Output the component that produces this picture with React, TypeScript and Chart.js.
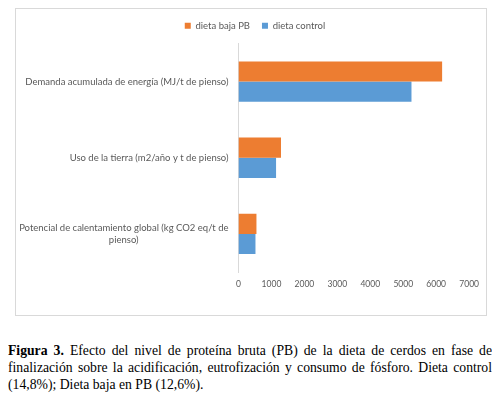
import React, { useEffect, useRef } from "react";
import { Chart, registerables } from "chart.js";

Chart.register(...registerables);

const categories: string[] = [
  "Demanda acumulada de energía (MJ/t de pienso)",
  "Uso de la tierra (m2/año y t de pienso)",
  "Potencial de calentamiento global (kg CO2 eq/t de|pienso)",
];
const seriesNames: string[] = ["dieta baja PB", "dieta control"];
const dietaBajaPB: number[] = [6180, 1290, 545];
const dietaControl: number[] = [5250, 1140, 515];
const xTicks: number[] = [0, 1000, 2000, 3000, 4000, 5000, 6000, 7000];

const ORANGE = "#ED7D31";
const BLUE = "#5B9BD5";
const TEXT = "#595959";
const FONT = "Lato";
const LABEL_SIZE = 9.5;
const TICK_SIZE = 8.5;
const RIGHT_PAD = 16;

function centeredLines(label: string): string | string[] {
  const parts = label.split("|");
  if (parts.length === 1) return label;
  const c = document.createElement("canvas").getContext("2d")!;
  c.font = `${LABEL_SIZE}px ${FONT}`;
  const w1 = c.measureText(parts[0]).width;
  const w2 = c.measureText(parts[1]).width;
  const sp = c.measureText(" ").width || 2.5;
  const n = Math.max(0, Math.round((w1 - w2) / 2 / sp));
  return [parts[0], parts[1] + " ".repeat(n)];
}

const legendTweak = {
  id: "legendTweak",
  beforeInit(chart: any) {
    const legend = chart.legend;
    if (!legend) return;
    const origFit = legend.fit;
    legend.fit = function () {
      origFit.call(this);
      this.height += 3;
    };
    const origDraw = legend.draw;
    legend.draw = function () {
      const r = this.right;
      this.right = r + RIGHT_PAD + 8;
      origDraw.call(this);
      this.right = r;
    };
  },
};

export default function App() {
  const ref = useRef<HTMLCanvasElement | null>(null);

  useEffect(() => {
    document.documentElement.style.overflow = "hidden";
    document.body.style.overflow = "hidden";
    if (!ref.current) return;
    const chart = new Chart(ref.current, {
      type: "bar",
      data: {
        labels: categories.map(centeredLines),
        datasets: [
          {
            label: seriesNames[0],
            data: dietaBajaPB,
            backgroundColor: ORANGE,
            borderWidth: 0,
            categoryPercentage: 0.53,
            barPercentage: 1,
          },
          {
            label: seriesNames[1],
            data: dietaControl,
            backgroundColor: BLUE,
            borderWidth: 0,
            categoryPercentage: 0.53,
            barPercentage: 1,
          },
        ],
      },
      plugins: [legendTweak],
      options: {
        indexAxis: "y",
        animation: false,
        responsive: false,
        layout: { padding: { left: 0, right: RIGHT_PAD, top: 0, bottom: 0 } },
        plugins: {
          legend: {
            position: "top",
            labels: {
              boxWidth: 6,
              boxHeight: 6,
              padding: 12,
              color: TEXT,
              font: { family: FONT, size: LABEL_SIZE },
            },
          },
          tooltip: { enabled: false },
        },
        scales: {
          x: {
            min: 0,
            max: 7000,
            afterBuildTicks: (s: any) => {
              s.ticks = xTicks.map((v) => ({ value: v }));
            },
            afterFit: (s: any) => {
              s.height = 43;
            },
            grid: { display: false, drawTicks: false },
            border: { display: false },
            ticks: {
              color: TEXT,
              padding: 7,
              font: { family: FONT, size: TICK_SIZE },
              callback: (v: any) => String(v),
            },
          },
          y: {
            afterFit: (s: any) => {
              s.width = 222.5;
            },
            grid: { display: false, drawTicks: false },
            border: { display: true, color: "#d9d9d9", width: 1 },
            ticks: {
              color: TEXT,
              padding: 10,
              font: { family: FONT, size: LABEL_SIZE },
            },
          },
        },
      },
    });
    return () => chart.destroy();
  }, []);

  return (
    <div>
      <div
        style={{
          marginLeft: 7,
          width: 470,
          height: 306,
          border: "1px solid #d9d9d9",
          background: "#fff",
        }}
      >
        <canvas ref={ref} width={470} height={306} style={{ display: "block" }} />
      </div>
      <div
        style={{
          marginTop: 26,
          width: 484,
          fontFamily: "'Liberation Serif', 'Times New Roman', serif",
          fontSize: 13.7,
          lineHeight: "17px",
          color: "#000",
        }}
      >
        <div style={{ textAlign: "justify", textAlignLast: "justify" }}>
          <b>Figura 3.</b> Efecto del nivel de proteína bruta (PB) de la dieta de cerdos en fase de
        </div>
        <div style={{ textAlign: "justify", textAlignLast: "justify" }}>
          finalización sobre la acidificación, eutrofización y consumo de fósforo. Dieta control
        </div>
        <div>(14,8%); Dieta baja en PB (12,6%).</div>
      </div>
    </div>
  );
}
